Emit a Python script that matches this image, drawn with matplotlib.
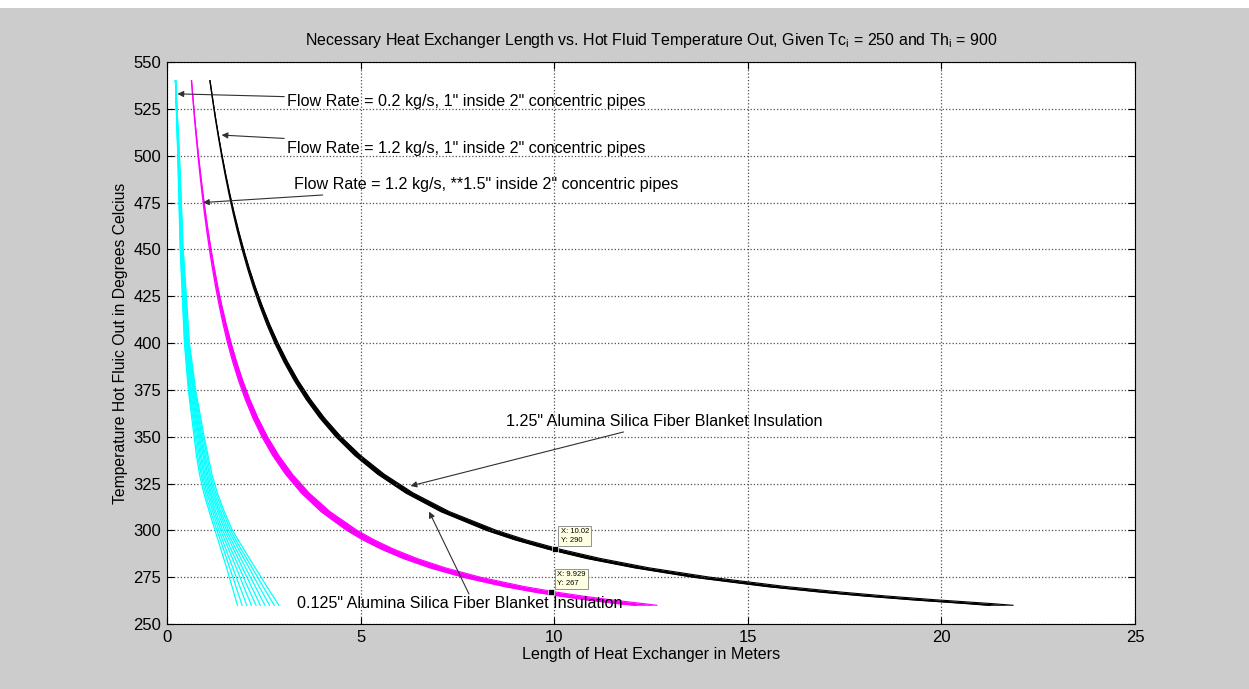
import matplotlib.pyplot as plt
import matplotlib.patches as mpatches

plt.rcParams['font.family'] = ['Liberation Sans', 'DejaVu Sans']

# cyan family: Flow Rate = 0.2 kg/s, 1" inside 2" (one line per insulation case)
t_cyan = [540, 500, 450, 400, 375, 350, 340, 330, 320, 310, 300, 290, 280, 270, 260]
cyan_curves = [
    [0.22, 0.28, 0.34, 0.45, 0.55, 0.70, 0.76, 0.84, 0.95, 1.09, 1.24, 1.39, 1.54, 1.68, 1.82],
    [0.22, 0.28, 0.35, 0.46, 0.57, 0.73, 0.79, 0.88, 0.99, 1.13, 1.29, 1.46, 1.62, 1.78, 1.94],
    [0.22, 0.29, 0.36, 0.48, 0.59, 0.76, 0.83, 0.91, 1.03, 1.18, 1.34, 1.52, 1.70, 1.88, 2.06],
    [0.22, 0.29, 0.37, 0.49, 0.61, 0.79, 0.86, 0.95, 1.07, 1.22, 1.39, 1.59, 1.79, 1.98, 2.18],
    [0.22, 0.30, 0.38, 0.51, 0.63, 0.82, 0.89, 0.98, 1.11, 1.26, 1.44, 1.65, 1.87, 2.08, 2.30],
    [0.22, 0.30, 0.38, 0.52, 0.66, 0.84, 0.93, 1.02, 1.14, 1.31, 1.49, 1.72, 1.95, 2.18, 2.41],
    [0.22, 0.31, 0.39, 0.54, 0.68, 0.87, 0.96, 1.05, 1.18, 1.35, 1.54, 1.78, 2.03, 2.28, 2.53],
    [0.22, 0.31, 0.40, 0.55, 0.70, 0.90, 0.99, 1.09, 1.22, 1.39, 1.59, 1.85, 2.12, 2.38, 2.65],
    [0.22, 0.32, 0.41, 0.57, 0.72, 0.93, 1.03, 1.12, 1.26, 1.44, 1.64, 1.91, 2.20, 2.48, 2.77],
    [0.22, 0.32, 0.42, 0.58, 0.74, 0.96, 1.06, 1.16, 1.30, 1.48, 1.69, 1.98, 2.28, 2.58, 2.89],
]

# temperature levels for the two 1.2 kg/s bands
t_band = [540, 530, 520, 510, 500, 490, 480, 470, 460, 450, 440, 430, 420, 410, 400,
          390, 380, 370, 360, 350, 340, 330, 320, 310, 300, 295, 290, 285, 280, 275,
          270, 267, 265, 263, 261, 260]

# magenta band: Flow Rate = 1.2 kg/s, 1.5" inside 2" (left / right edge of the bundle)
mag_left = [0.633, 0.672, 0.711, 0.755, 0.802, 0.852, 0.906, 0.964, 1.028, 1.098, 1.174, 1.257,
            1.350, 1.452, 1.566, 1.699, 1.850, 2.022, 2.221, 2.453, 2.729, 3.062, 3.469, 3.981,
            4.644, 5.054, 5.536, 6.105, 6.798, 7.652, 8.727, 9.519, 10.13, 10.82, 11.60, 12.10]
mag_right = [0.633, 0.674, 0.717, 0.765, 0.814, 0.870, 0.928, 0.992, 1.062, 1.138, 1.222, 1.313,
             1.416, 1.530, 1.656, 1.797, 1.956, 2.138, 2.349, 2.595, 2.887, 3.238, 3.669, 4.211,
             4.912, 5.346, 5.854, 6.457, 7.190, 8.092, 9.229, 10.07, 10.71, 11.44, 12.26, 12.65]

# black band: Flow Rate = 1.2 kg/s, 1" inside 2"
blk_left = [1.110, 1.179, 1.250, 1.329, 1.412, 1.502, 1.599, 1.703, 1.817, 1.942, 2.079, 2.228,
            2.395, 2.579, 2.785, 3.020, 3.288, 3.594, 3.948, 4.362, 4.852, 5.443, 6.167, 7.078,
            8.256, 8.986, 9.841, 10.85, 12.09, 13.60, 15.51, 16.92, 18.01, 19.23, 20.62, 21.25]
blk_right = [1.110, 1.181, 1.256, 1.337, 1.424, 1.518, 1.619, 1.729, 1.849, 1.980, 2.123, 2.282,
             2.457, 2.651, 2.869, 3.112, 3.388, 3.704, 4.068, 4.494, 5.000, 5.609, 6.355, 7.294,
             8.508, 9.260, 10.14, 11.19, 12.45, 14.02, 15.99, 17.44, 18.55, 19.81, 21.24, 21.85]

tips = [(10.02, 290), (9.929, 267)]

fig = plt.figure(figsize=(12.49, 6.89), dpi=100, facecolor='#cccccc')
fig.add_artist(mpatches.Rectangle((0, 0.988), 1, 0.012, transform=fig.transFigure,
                                  facecolor='white', edgecolor='none'))
ax = fig.add_axes([0.1337, 0.0943, 0.775, 0.8157])

for xs in cyan_curves:
    ax.plot(xs, t_cyan, color='#00ffff', lw=0.9)

ax.fill_betweenx(t_band, mag_left, mag_right, color='#ff00ff', lw=0)
ax.plot(mag_left, t_band, color='#ff00ff', lw=1.0)
ax.plot(mag_right, t_band, color='#ff00ff', lw=0.8)

ax.fill_betweenx(t_band, blk_left, blk_right, color='black', lw=0)
ax.plot(blk_left, t_band, color='black', lw=1.0)
ax.plot(blk_right, t_band, color='black', lw=0.8)

ax.set_xlim(0, 25)
ax.set_ylim(250, 550)
ax.set_xticks(range(0, 26, 5))
ax.set_yticks(range(250, 551, 25))
ax.grid(True, linestyle=':', color='#505050', lw=0.9)
ax.tick_params(direction='in', top=True, right=True, length=5, labelsize=12, pad=4)

ax.set_title('Necessary Heat Exchanger Length vs. Hot Fluid Temperature Out, Given Tc$_\\mathregular{i}$ = 250 and Th$_\\mathregular{i}$ = 900',
             fontsize=11.5, pad=12)
ax.set_xlabel('Length of Heat Exchanger in Meters', fontsize=11.6, labelpad=2)
ax.set_ylabel('Temperature Hot Fluic Out in Degrees Celcius', fontsize=11.3, labelpad=4)

arrow = dict(arrowstyle='-|>', color='#303030', lw=0.8, mutation_scale=9, shrinkA=0, shrinkB=0)
ax.annotate('Flow Rate = 0.2 kg/s, 1" inside 2" concentric pipes', xy=(0.27, 533), xytext=(3.10, 529),
            fontsize=11.6, va='center', ha='left', arrowprops=arrow)
ax.annotate('Flow Rate = 1.2 kg/s, 1" inside 2" concentric pipes', xy=(1.41, 511), xytext=(3.10, 504),
            fontsize=11.6, va='center', ha='left', arrowprops=arrow)
ax.annotate('Flow Rate = 1.2 kg/s, **1.5" inside 2" concentric pipes', xy=(0.93, 475), xytext=(3.28, 484.5),
            fontsize=11.6, va='center', ha='left', arrowprops=arrow)
ax.annotate('1.25" Alumina Silica Fiber Blanket Insulation', xy=(6.29, 323.7), xytext=(8.75, 358),
            fontsize=11.6, va='center', ha='left', arrowprops=arrow)
ax.annotate('', xy=(6.77, 310), xytext=(7.8, 266), arrowprops=arrow)
ax.text(3.36, 260.7, '0.125" Alumina Silica Fiber Blanket Insulation', fontsize=11.6, va='center', ha='left')

for x, y in tips:
    ax.plot(x, y, 's', color='black', ms=5, mec='white', mew=0.5)
    ax.annotate('X: %g\nY: %d' % (x, y), xy=(x, y), xytext=(4, 4), textcoords='offset points',
                fontsize=5.5, ha='left', va='bottom', linespacing=1.3,
                bbox=dict(boxstyle='square,pad=0.3', fc='#ffffe1', ec='#808080', lw=0.6))

fig.savefig('out.png', dpi=100, facecolor=fig.get_facecolor())
